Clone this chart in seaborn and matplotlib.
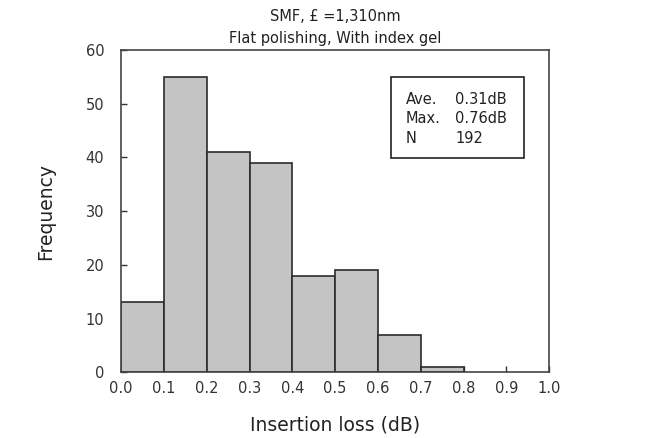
import numpy as np
import pandas as pd
import seaborn as sns
import matplotlib.pyplot as plt
from matplotlib.patches import Rectangle

# bin edges / counts
bin_edges = [0.0, 0.1, 0.2, 0.3, 0.4, 0.5, 0.6, 0.7, 0.8]
counts = [13, 55, 41, 39, 18, 19, 7, 1]
stat_names = ["Ave.", "Max.", "N"]
stat_values = ["0.31dB", "0.76dB", "192"]
title_lines = ["SMF, \u00a3 =1,310nm", "Flat polishing, With index gel"]

if __name__ == '__main__':
    sns.set_style("ticks")
    plt.rcParams['font.family'] = ['DejaVu Sans']

    centers = [(a + b) / 2 for a, b in zip(bin_edges[:-1], bin_edges[1:])]
    df = pd.DataFrame({"loss": centers, "count": counts})

    fig = plt.figure(figsize=(6.65, 4.38), dpi=100)
    ax = fig.add_axes([0.182, 0.150, 0.644, 0.736])
    sns.histplot(data=df, x="loss", weights="count", bins=bin_edges, ax=ax,
                 color="#c4c4c4", alpha=1.0, edgecolor="#2b2b2b", linewidth=1.2)

    ax.set_xlim(0, 1.0)
    ax.set_ylim(0, 60)
    ax.set_xticks(np.arange(0, 1.01, 0.1))
    ax.set_xticklabels([f"{v:.1f}" for v in np.arange(0, 1.01, 0.1)])
    ax.set_yticks(range(0, 61, 10))
    ax.tick_params(direction="in", length=4, width=1, colors="#333333",
                   labelsize=10.5, labelcolor="#333333")
    ax.tick_params(axis="y", pad=12)
    ax.tick_params(axis="x", pad=6)
    for s in ax.spines.values():
        s.set_visible(True)
        s.set_color("#444444")
        s.set_linewidth(1.2)

    ax.set_xlabel("Insertion loss (dB)", fontsize=13.5, color="#222222", labelpad=14)
    ax.set_ylabel("Frequency", fontsize=13.5, color="#222222", labelpad=22)
    ax.set_title("\n".join(title_lines), fontsize=10.5, color="#222222",
                 linespacing=1.55, pad=5)

    # stats box
    ax.add_patch(Rectangle((0.631, 0.665), 0.311, 0.252, transform=ax.transAxes,
                           fill=False, edgecolor="#222222", linewidth=1.2))
    rows_y = [0.845, 0.786, 0.724]
    for name, val, y in zip(stat_names, stat_values, rows_y):
        ax.text(0.664, y, name, transform=ax.transAxes, fontsize=10.5,
                va="center", ha="left", color="#222222")
        ax.text(0.780, y, val, transform=ax.transAxes, fontsize=10.5,
                va="center", ha="left", color="#222222")

    fig.savefig("out.png", dpi=100)
